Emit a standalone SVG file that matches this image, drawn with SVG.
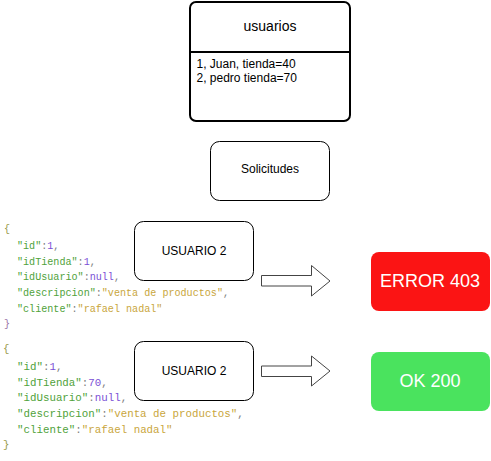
<svg xmlns="http://www.w3.org/2000/svg" width="491" height="461" viewBox="0 0 491 461">
<style>
.box{fill:#fff;stroke:#000;stroke-width:1}
.lbl{font-family:"Liberation Sans",Arial,sans-serif;font-size:12px;fill:#000}
.big{font-family:"Liberation Sans",Arial,sans-serif;font-size:18px;fill:#fff;text-anchor:middle}
.arrow{fill:#fff;stroke:#444;stroke-width:1}
.code{font-family:"Liberation Mono","DejaVu Sans Mono",monospace;fill:#808080}
.k{fill:#4fa23a}
.n{fill:#7b4fd6}
.s{fill:#c9a63c}
.b1{fill:#9a9a4a}
.b2{fill:#9a74a8}
</style>
<g id="usuarios">
<rect x="190" y="2" width="160" height="119" rx="6" fill="#fff" stroke="#000" stroke-width="2"/>
<line x1="190" y1="52" x2="350" y2="52" stroke="#000" stroke-width="2"/>
<text x="270" y="31" class="lbl" style="font-size:14px" text-anchor="middle">usuarios</text>
<text x="196.5" y="68" class="lbl">1, Juan, tienda=40</text>
<text x="196.5" y="82" class="lbl">2, pedro tienda=70</text>
</g>
<g id="solicitudes">
<rect x="210.5" y="141.5" width="119" height="59" rx="9" class="box"/>
<text x="270" y="173" class="lbl" text-anchor="middle">Solicitudes</text>
</g>
<g id="json1" class="code" style="font-size:10.1px">
<text x="4" y="231.5"><tspan class="b1">{</tspan></text>
<text x="17" y="248.8"><tspan class="k">"id"</tspan>:<tspan class="n">1</tspan>,</text>
<text x="17" y="264.6"><tspan class="k">"idTienda"</tspan>:<tspan class="n">1</tspan>,</text>
<text x="17" y="280.4"><tspan class="k">"idUsuario"</tspan>:<tspan class="n">null</tspan>,</text>
<text x="17" y="296.2"><tspan class="k">"descripcion"</tspan>:<tspan class="s">"venta de productos"</tspan>,</text>
<text x="17" y="312"><tspan class="k">"cliente"</tspan>:<tspan class="s">"rafael nadal"</tspan></text>
<text x="4" y="327"><tspan class="b2">}</tspan></text>
</g>
<g id="json2" class="code" style="font-size:10.8px">
<text x="3" y="351.5"><tspan class="b1">{</tspan></text>
<text x="17" y="369.8"><tspan class="k">"id"</tspan>:<tspan class="n">1</tspan>,</text>
<text x="17" y="385.6"><tspan class="k">"idTienda"</tspan>:<tspan class="n">70</tspan>,</text>
<text x="17" y="401.4"><tspan class="k">"idUsuario"</tspan>:<tspan class="n">null</tspan>,</text>
<text x="17" y="417.2"><tspan class="k">"descripcion"</tspan>:<tspan class="s">"venta de productos"</tspan>,</text>
<text x="17" y="433"><tspan class="k">"cliente"</tspan>:<tspan class="s">"rafael nadal"</tspan></text>
<text x="3" y="447.5"><tspan class="b1">}</tspan></text>
</g>
<g id="usuario2a">
<rect x="134.5" y="221.5" width="119" height="59" rx="9" class="box"/>
<text x="194" y="255" class="lbl" text-anchor="middle">USUARIO 2</text>
</g>
<g id="usuario2b">
<rect x="134.5" y="341.5" width="119" height="59" rx="9" class="box"/>
<text x="194" y="375" class="lbl" text-anchor="middle">USUARIO 2</text>
</g>
<g id="connectors">
<polygon class="arrow" points="261.5,275.5 311.5,275.5 311.5,265.5 330,281 311.5,296 311.5,286 261.5,286"/>
<polygon class="arrow" points="261.5,366 311.5,366 311.5,356 330,371 311.5,386 311.5,376.5 261.5,376.5"/>
</g>
<g id="error403">
<rect x="371" y="252" width="119" height="59" rx="8" fill="#fb1414"/>
<text x="430" y="287" class="big">ERROR 403</text>
</g>
<g id="ok200">
<rect x="371" y="352" width="119" height="59" rx="8" fill="#4ae35e"/>
<text x="430" y="387" class="big">OK 200</text>
</g>
</svg>
